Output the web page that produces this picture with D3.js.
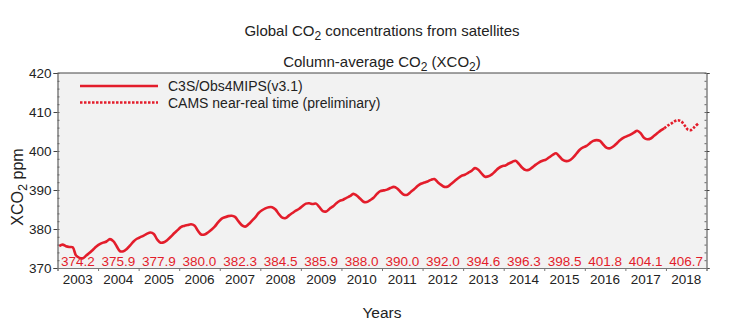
<!DOCTYPE html>
<html>
<head>
<meta charset="utf-8">
<script src="https://cdn.jsdelivr.net/npm/d3@7"></script>
<style>
  html, body { margin: 0; padding: 0; background: #fff; }
  svg { display: block; font-family: "Liberation Sans", Arial, sans-serif; }
</style>
</head>
<body>
<svg id="chart" width="744" height="324"></svg>
<script>
// Year labels and annual-mean XCO2 (ppm) written under each year
const years = [2003, 2004, 2005, 2006, 2007, 2008, 2009, 2010, 2011, 2012, 2013, 2014, 2015, 2016, 2017, 2018];
const annualMeans = [374.2, 375.9, 377.9, 380.0, 382.3, 384.5, 385.9, 388.0, 390.0, 392.0, 394.6, 396.3, 398.5, 401.8, 404.1, 406.7];

// Monthly XCO2 (ppm), C3S/Obs4MIPS v3.1, Jan 2003 - Dec 2017
const c3sStart = 2003;
const c3sMonthly = [
  375.6, 376.0, 375.6, 375.4, 375.3, 373.2, 372.6, 372.5, 373.2, 373.9, 374.7, 375.5, // 2003
  376.1, 376.5, 376.8, 377.4, 376.9, 375.6, 374.3, 374.3, 374.9, 375.8, 376.8, 377.5, // 2004
  377.9, 378.3, 378.8, 379.1, 378.7, 377.3, 376.5, 376.6, 377.2, 378.0, 378.9, 379.7, // 2005
  380.5, 380.8, 381.0, 381.2, 380.9, 379.6, 378.6, 378.6, 379.1, 379.8, 380.6, 381.7, // 2006
  382.6, 383.0, 383.3, 383.4, 383.1, 382.0, 381.0, 380.6, 381.2, 382.1, 383.0, 384.1, // 2007
  384.8, 385.3, 385.6, 385.6, 385.0, 383.8, 382.9, 382.8, 383.5, 384.1, 384.7, 385.2, // 2008
  385.9, 386.5, 386.6, 386.4, 386.5, 385.6, 384.6, 384.5, 385.2, 385.8, 386.6, 387.2, // 2009
  387.5, 388.0, 388.4, 389.0, 388.6, 387.8, 387.0, 386.9, 387.4, 388.0, 389.0, 389.7, // 2010
  389.9, 390.1, 390.5, 390.8, 390.4, 389.5, 388.8, 388.8, 389.5, 390.2, 391.0, 391.6, // 2011
  391.9, 392.2, 392.6, 392.8, 392.0, 391.3, 390.8, 390.9, 391.6, 392.3, 393.0, 393.6, // 2012
  393.9, 394.4, 394.9, 395.6, 395.2, 394.2, 393.4, 393.5, 394.0, 394.8, 395.6, 396.1, // 2013
  396.3, 396.8, 397.2, 397.5, 396.7, 395.7, 395.1, 395.2, 395.8, 396.5, 397.1, 397.5, // 2014
  397.8, 398.4, 399.0, 399.4, 398.6, 397.7, 397.4, 397.6, 398.3, 399.3, 400.3, 400.9, // 2015
  401.3, 402.0, 402.6, 402.8, 402.6, 401.6, 400.8, 400.7, 401.2, 402.0, 402.8, 403.4, // 2016
  403.8, 404.2, 404.7, 405.2, 404.6, 403.4, 403.0, 403.2, 403.9, 404.6, 405.3, 405.8  // 2017
];

// CAMS near-real-time monthly XCO2 (ppm), Dec 2017 - Oct 2018
const nrtStart = 2017 + 11 / 12;
const nrtMonthly = [405.8, 406.5, 407.0, 407.6, 407.9, 407.6, 406.6, 405.5, 405.4, 406.2, 407.0];

const yTicks = [370, 380, 390, 400, 410, 420];

const RED = "#e31d2b";
const svg = d3.select("#chart");

const margin = { left: 57.5, right: 706.5, top: 73, bottom: 268 };
const x = d3.scaleLinear().domain([2003, 2019]).range([margin.left, margin.right]);
const y = d3.scaleLinear().domain([370, 420]).range([margin.bottom, margin.top]);

// Text with subscript parts: each part is shifted relative to the previous one
function subText(sel, parts) {
  let shift = 0;
  parts.forEach(p => {
    const target = p.sub ? 3.5 : 0;
    const ts = sel.append("tspan").attr("dy", target - shift).text(p.t);
    if (p.sub) ts.attr("font-size", "0.8em");
    shift = target;
  });
}
const cx = (margin.left + margin.right) / 2;
subText(svg.append("text").attr("x", cx).attr("y", 36).attr("text-anchor", "middle")
  .attr("font-size", 15).attr("fill", "#222"),
  [{ t: "Global CO" }, { t: "2", sub: true }, { t: " concentrations from satellites" }]);
subText(svg.append("text").attr("x", cx).attr("y", 67).attr("text-anchor", "middle")
  .attr("font-size", 15).attr("fill", "#222"),
  [{ t: "Column-average CO" }, { t: "2", sub: true }, { t: " (XCO" }, { t: "2", sub: true }, { t: ")" }]);

// Plot background
svg.append("rect")
  .attr("x", margin.left).attr("y", margin.top)
  .attr("width", margin.right - margin.left).attr("height", margin.bottom - margin.top)
  .attr("fill", "#f2f2f2");

svg.append("clipPath").attr("id", "plotClip").append("rect")
  .attr("x", margin.left).attr("y", margin.top - 2)
  .attr("width", margin.right - margin.left).attr("height", margin.bottom - margin.top + 2);

// Annual mean labels
svg.append("g").selectAll("text").data(years).join("text")
  .attr("x", d => x(d + 0.5)).attr("y", 266)
  .attr("text-anchor", "middle").attr("font-size", 13.5).attr("fill", RED)
  .text((d, i) => annualMeans[i].toFixed(1));

// Lines
const c3sData = c3sMonthly.map((v, i) => ({ t: c3sStart + (i + 0.5) / 12, v }));
const nrtData = nrtMonthly.map((v, i) => ({ t: nrtStart + (i + 0.5) / 12, v }));
const line = d3.line().x(d => x(d.t)).y(d => y(d.v)).curve(d3.curveCatmullRom.alpha(0.5));

const plot = svg.append("g").attr("clip-path", "url(#plotClip)");
plot.append("path").datum(c3sData).attr("d", line)
  .attr("fill", "none").attr("stroke", RED).attr("stroke-width", 2.6)
  .attr("stroke-linejoin", "round");
plot.append("path").datum(nrtData).attr("d", line)
  .attr("fill", "none").attr("stroke", RED).attr("stroke-width", 2.6)
  .attr("stroke-dasharray", "2.5,1.5");

// Frame: top border
svg.append("line").attr("x1", margin.left).attr("x2", margin.right)
  .attr("y1", margin.top).attr("y2", margin.top).attr("stroke", "#444").attr("stroke-width", 1);

// Left axis
const minorTicks = d3.range(370, 421, 2);
const leftAxis = svg.append("g").attr("transform", `translate(${margin.left},0)`)
  .call(d3.axisLeft(y).tickValues(yTicks).tickSize(4).tickPadding(2).tickFormat(d3.format("d")));
leftAxis.selectAll("text").attr("font-size", 13.5).attr("fill", "#222").attr("font-family", "Liberation Sans, Arial, sans-serif");
leftAxis.selectAll("line, path").attr("stroke", "#444");
svg.append("g").attr("transform", `translate(${margin.left},0)`)
  .call(d3.axisRight(y).tickValues(minorTicks).tickSize(2).tickFormat(""))
  .call(g => g.select(".domain").remove())
  .selectAll("line").attr("stroke", "#666");

// Right axis
const rightAxis = svg.append("g").attr("transform", `translate(${margin.right},0)`)
  .call(d3.axisRight(y).tickValues(yTicks).tickSize(3).tickFormat(""));
rightAxis.selectAll("line, path").attr("stroke", "#444");
svg.append("g").attr("transform", `translate(${margin.right},0)`)
  .call(d3.axisLeft(y).tickValues(minorTicks).tickSize(2).tickFormat(""))
  .call(g => g.select(".domain").remove())
  .selectAll("line").attr("stroke", "#666");

// Bottom axis: ticks at year boundaries, labels at mid-year
const bottomAxis = svg.append("g").attr("transform", `translate(0,${margin.bottom})`)
  .call(d3.axisBottom(x).tickValues(d3.range(2003, 2020)).tickSize(3).tickFormat(""));
bottomAxis.selectAll("line, path").attr("stroke", "#777");
svg.append("g").selectAll("text").data(years).join("text")
  .attr("x", d => x(d + 0.5)).attr("y", 284)
  .attr("text-anchor", "middle").attr("font-size", 13.5).attr("fill", "#222")
  .text(d => d);

// Axis titles
svg.append("text").attr("x", cx).attr("y", 318).attr("text-anchor", "middle")
  .attr("font-size", 15.5).attr("fill", "#222").text("Years");
subText(svg.append("text").attr("transform", "translate(23,187) rotate(-90)")
  .attr("text-anchor", "middle").attr("font-size", 16).attr("fill", "#222"),
  [{ t: "XCO" }, { t: "2", sub: true }, { t: " ppm" }]);

// Legend
const legend = svg.append("g");
legend.append("line").attr("x1", 80).attr("x2", 158).attr("y1", 86).attr("y2", 86)
  .attr("stroke", RED).attr("stroke-width", 2.6);
legend.append("line").attr("x1", 80).attr("x2", 158).attr("y1", 102.5).attr("y2", 102.5)
  .attr("stroke", RED).attr("stroke-width", 2.6).attr("stroke-dasharray", "2.5,1.5");
legend.append("text").attr("x", 168).attr("y", 91).attr("font-size", 14).attr("fill", "#222")
  .text("C3S/Obs4MIPS(v3.1)");
legend.append("text").attr("x", 168).attr("y", 107.5).attr("font-size", 14).attr("fill", "#222")
  .text("CAMS near-real time (preliminary)");
</script>
</body>
</html>
